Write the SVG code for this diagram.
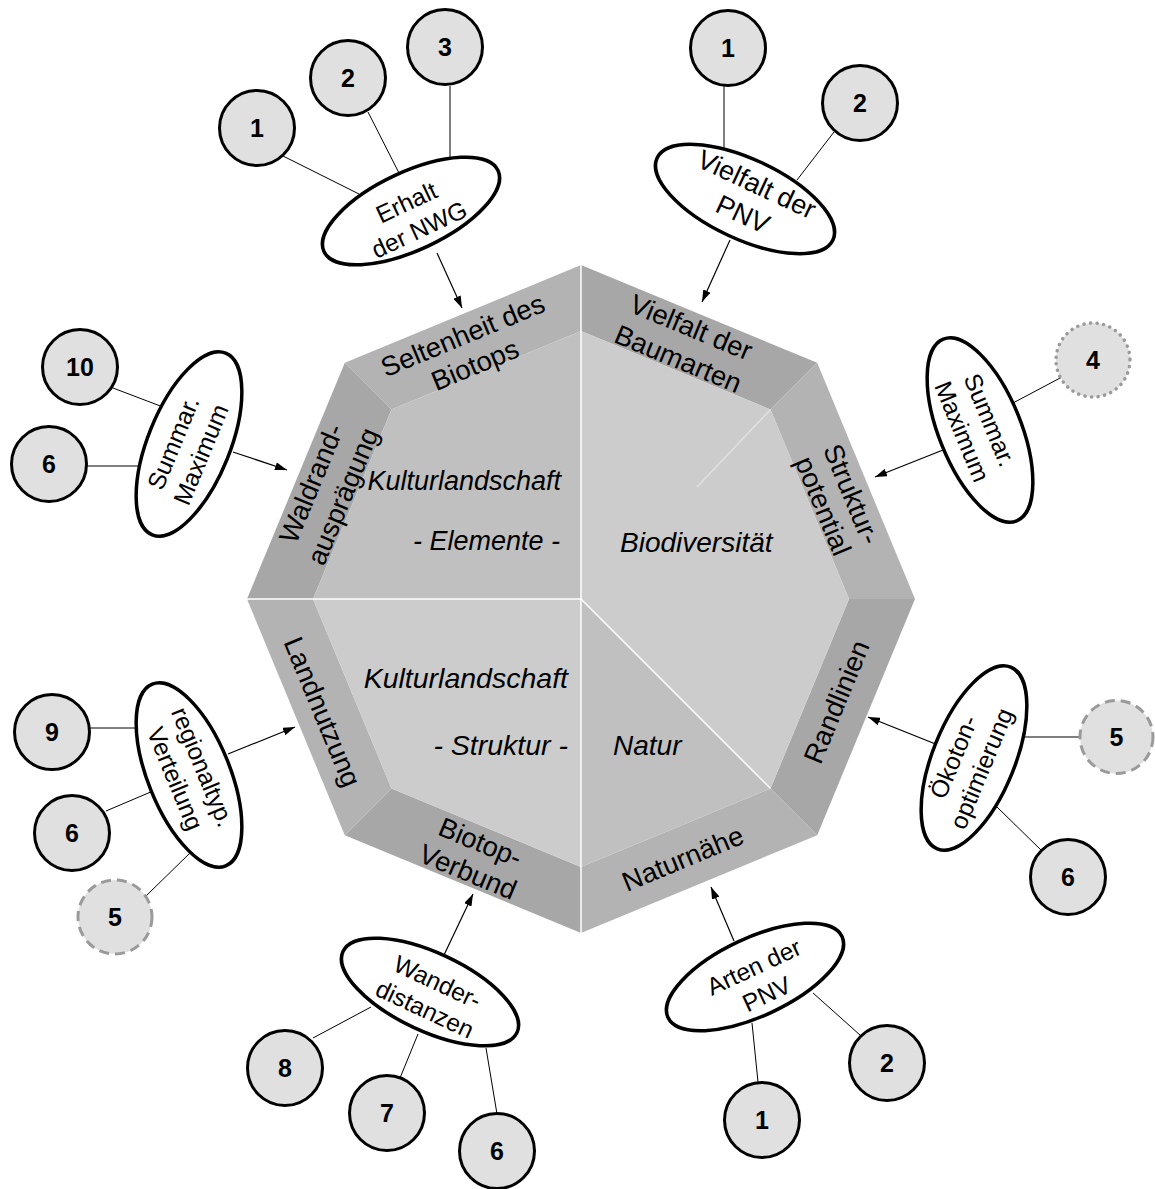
<svg xmlns="http://www.w3.org/2000/svg" width="1155" height="1189" viewBox="0 0 1155 1189">
<defs>
<marker id="ah" viewBox="0 0 12 8" refX="12" refY="4" markerWidth="12" markerHeight="8" orient="auto" markerUnits="userSpaceOnUse"><path d="M0,0 L12,4 L0,8 z" fill="#000"/></marker>
<style>
text{font-family:"Liberation Sans",Arial,sans-serif;fill:#000}
.band{font-size:27.5px;text-anchor:middle}
.inner{font-size:28px;font-style:italic}
.et{font-size:24.5px;text-anchor:middle}
.num{font-size:25px;font-weight:bold;text-anchor:middle}
.ell{fill:#fff;stroke:#000;stroke-width:3.5}
.c{fill:#e0e0e0;stroke:#000;stroke-width:3}
.cdash{fill:#e0e0e0;stroke:#9a9a9a;stroke-width:3;stroke-dasharray:10 6}
.cdot{fill:#e0e0e0;stroke:#9a9a9a;stroke-width:3.5;stroke-dasharray:0.1 6.5;stroke-linecap:round}
.ln{stroke:#000;stroke-width:1;fill:none}
.ar{stroke:#000;stroke-width:1.2;fill:none;marker-end:url(#ah)}
.lt{fill:#b3b3b3}
.dk{fill:#a7a7a7}
.wl{stroke:#fff;stroke-width:1.5;fill:none}
</style>
</defs>
<rect width="1155" height="1189" fill="#fff"/>

<g id="octagon">
<polygon class="lt" points="344.8,362.8 581,265 581,331 391.5,409.5"/>
<polygon class="dk" points="581,265 817.2,362.8 770.5,409.5 581,331"/>
<polygon class="lt" points="817.2,362.8 915,599 849,599 770.5,409.5"/>
<polygon class="dk" points="915,599 817.2,835.2 770.5,788.5 849,599"/>
<polygon class="lt" points="817.2,835.2 581,933 581,867 770.5,788.5"/>
<polygon class="dk" points="581,933 344.8,835.2 391.5,788.5 581,867"/>
<polygon class="lt" points="344.8,835.2 247,599 313,599 391.5,788.5"/>
<polygon class="dk" points="247,599 344.8,362.8 391.5,409.5 313,599"/>
<polygon fill="#c0c0c0" points="581,331 391.5,409.5 313,599 581,599"/>
<polygon fill="#cccccc" points="581,599 313,599 391.5,788.5 581,867"/>
<polygon fill="#cccccc" points="581,331 770.5,409.5 849,599 770.5,788.5 581,599"/>
<polygon fill="#c0c0c0" points="581,599 770.5,788.5 581,867"/>
<line class="wl" x1="581" y1="265" x2="581" y2="933"/>
<line class="wl" x1="247" y1="599" x2="581" y2="599"/>
<line class="wl" x1="581" y1="599" x2="770.5" y2="788.5"/>
<line class="wl" x1="697" y1="487" x2="770.5" y2="409.5" stroke-opacity="0.4"/>

<g transform="translate(469,350.5) rotate(-22.5)"><text class="band" y="-7">Seltenheit des</text><text class="band" y="25">Biotops</text></g>
<g transform="translate(684.5,343.5) rotate(22.5)"><text class="band" y="-8">Vielfalt der</text><text class="band" y="26">Baumarten</text></g>
<g transform="translate(327.5,490) rotate(-67.5)"><text class="band" y="-8">Waldrand-</text><text class="band" y="26">ausprägung</text></g>
<g transform="translate(837.5,500) rotate(67.5)"><text class="band" y="-6">Struktur-</text><text class="band" y="25">potential</text></g>
<g transform="translate(837,702) rotate(-67.5)"><text class="band" y="9">Randlinien</text></g>
<g transform="translate(683,859) rotate(-22.5)"><text class="band" y="9">Naturnähe</text></g>
<g transform="translate(322,712) rotate(67.5)"><text class="band" y="9">Landnutzung</text></g>
<g transform="translate(474,857.5) rotate(22.5)"><text class="band" y="-7">Biotop-</text><text class="band" y="25">Verbund</text></g>

<text class="inner" x="561" y="490" text-anchor="end" style="font-size:27px">Kulturlandschaft</text>
<text class="inner" x="560" y="550" text-anchor="end" style="font-size:27px">- Elemente -</text>
<text class="inner" x="568" y="688" text-anchor="end" style="font-size:28.5px">Kulturlandschaft</text>
<text class="inner" x="568" y="755" text-anchor="end" style="font-size:28.5px">- Struktur -</text>
<text class="inner" x="620" y="552">Biodiversität</text>
<text class="inner" x="613" y="755">Natur</text>
</g>

<g id="connectors">
<line class="ln" x1="283" y1="156" x2="359" y2="194"/>
<line class="ln" x1="368" y1="112" x2="399" y2="173"/>
<line class="ln" x1="450" y1="86" x2="450" y2="157"/>
<line class="ln" x1="724" y1="86" x2="724" y2="148"/>
<line class="ln" x1="834" y1="132" x2="797" y2="180"/>
<line class="ln" x1="113" y1="388" x2="163" y2="407"/>
<line class="ln" x1="87" y1="466" x2="140" y2="466"/>
<line class="ln" x1="1062" y1="377" x2="1013" y2="403"/>
<line class="ln" x1="90" y1="728" x2="135" y2="728"/>
<line class="ln" x1="106" y1="811" x2="153" y2="791"/>
<line class="ln" x1="146" y1="896" x2="191" y2="852"/>
<line class="ln" x1="1023" y1="737" x2="1082" y2="737"/>
<line class="ln" x1="997" y1="807" x2="1042" y2="851"/>
<line class="ln" x1="313" y1="1038" x2="371" y2="1007"/>
<line class="ln" x1="400" y1="1078" x2="418" y2="1034"/>
<line class="ln" x1="497" y1="1114" x2="486" y2="1048"/>
<line class="ln" x1="758" y1="1082" x2="752" y2="1023"/>
<line class="ln" x1="860" y1="1035" x2="813" y2="993"/>
<line class="ar" x1="437" y1="253" x2="462" y2="308"/>
<line class="ar" x1="730" y1="240" x2="702" y2="302"/>
<line class="ar" x1="233" y1="452" x2="287" y2="470"/>
<line class="ar" x1="943" y1="450" x2="875" y2="477"/>
<line class="ar" x1="228" y1="754" x2="295" y2="727"/>
<line class="ar" x1="938" y1="745" x2="868" y2="717"/>
<line class="ar" x1="444" y1="955" x2="473" y2="894"/>
<line class="ar" x1="734" y1="941" x2="711" y2="887"/>
</g>

<g id="e-erhalt"><ellipse class="ell" cx="411" cy="211" rx="96" ry="39" transform="rotate(-25 411 211)"/>
<g transform="translate(413,216.5) rotate(-25)"><text class="et" y="-7">Erhalt</text><text class="et" y="23">der NWG</text></g></g>
<g id="e-vielfalt"><ellipse class="ell" cx="745" cy="199" rx="97" ry="40" transform="rotate(25 745 199)"/>
<g transform="translate(749.5,200) rotate(25)"><text class="et" y="-8" style="font-size:27px">Vielfalt der</text><text class="et" y="25" style="font-size:27px">PNV</text></g></g>
<g id="e-summar-l"><ellipse class="ell" cx="189" cy="444" rx="98" ry="41" transform="rotate(-68 189 444)"/>
<g transform="translate(187.5,449) rotate(-67.5)"><text class="et" y="-7">Summar.</text><text class="et" y="23">Maximum</text></g></g>
<g id="e-summar-r"><ellipse class="ell" cx="980" cy="430" rx="98" ry="41" transform="rotate(68 980 430)"/>
<g transform="translate(975.5,426) rotate(67.5)"><text class="et" y="-7">Summar.</text><text class="et" y="23">Maximum</text></g></g>
<g id="e-regional"><ellipse class="ell" cx="189" cy="775" rx="98" ry="41" transform="rotate(68 189 775)"/>
<g transform="translate(188.5,773) rotate(67.5)"><text class="et" y="-7">regionaltyp.</text><text class="et" y="23">Verteilung</text></g></g>
<g id="e-oekoton"><ellipse class="ell" cx="974" cy="758" rx="98" ry="41" transform="rotate(-68 974 758)"/>
<g transform="translate(968,763) rotate(-67.5)"><text class="et" y="-7">Ökoton-</text><text class="et" y="23">optimierung</text></g></g>
<g id="e-wander"><ellipse class="ell" cx="430" cy="992" rx="96" ry="39" transform="rotate(25 430 992)"/>
<g transform="translate(431,996) rotate(25)"><text class="et" y="-7">Wander-</text><text class="et" y="23">distanzen</text></g></g>
<g id="e-arten"><ellipse class="ell" cx="755" cy="977" rx="96" ry="39" transform="rotate(-25 755 977)"/>
<g transform="translate(760.5,981) rotate(-25)"><text class="et" y="-7">Arten der</text><text class="et" y="23">PNV</text></g></g>

<g id="c-erhalt-1"><circle class="c" cx="257" cy="128" r="37.5"/><text class="num" x="257" y="137">1</text></g>
<g id="c-erhalt-2"><circle class="c" cx="348" cy="78" r="37.5"/><text class="num" x="348" y="87">2</text></g>
<g id="c-erhalt-3"><circle class="c" cx="445" cy="47" r="37.5"/><text class="num" x="445" y="56">3</text></g>
<g id="c-vielfalt-1"><circle class="c" cx="728" cy="48" r="37.5"/><text class="num" x="728" y="57">1</text></g>
<g id="c-vielfalt-2"><circle class="c" cx="860" cy="103" r="37.5"/><text class="num" x="860" y="112">2</text></g>
<g id="c-summar-10"><circle class="c" cx="80" cy="367" r="37.5"/><text class="num" x="80" y="376">10</text></g>
<g id="c-summar-6"><circle class="c" cx="49" cy="464" r="37.5"/><text class="num" x="49" y="473">6</text></g>
<g id="c-summar-4"><circle class="cdot" cx="1093" cy="360" r="37"/><text class="num" x="1093" y="369">4</text></g>
<g id="c-regional-9"><circle class="c" cx="52" cy="732" r="37.5"/><text class="num" x="52" y="741">9</text></g>
<g id="c-regional-6"><circle class="c" cx="72" cy="833" r="37.5"/><text class="num" x="72" y="842">6</text></g>
<g id="c-regional-5"><circle class="cdash" cx="115" cy="917" r="37"/><text class="num" x="115" y="926">5</text></g>
<g id="c-oekoton-5"><circle class="cdash" cx="1116.5" cy="737" r="36.5"/><text class="num" x="1116.5" y="746">5</text></g>
<g id="c-oekoton-6"><circle class="c" cx="1068" cy="877" r="37.5"/><text class="num" x="1068" y="886">6</text></g>
<g id="c-wander-8"><circle class="c" cx="285" cy="1068" r="37.5"/><text class="num" x="285" y="1077">8</text></g>
<g id="c-wander-7"><circle class="c" cx="387" cy="1113" r="37.5"/><text class="num" x="387" y="1122">7</text></g>
<g id="c-wander-6"><circle class="c" cx="497" cy="1151" r="37.5"/><text class="num" x="497" y="1160">6</text></g>
<g id="c-arten-1"><circle class="c" cx="762" cy="1120" r="37.5"/><text class="num" x="762" y="1129">1</text></g>
<g id="c-arten-2"><circle class="c" cx="887" cy="1063" r="37.5"/><text class="num" x="887" y="1072">2</text></g>
</svg>
